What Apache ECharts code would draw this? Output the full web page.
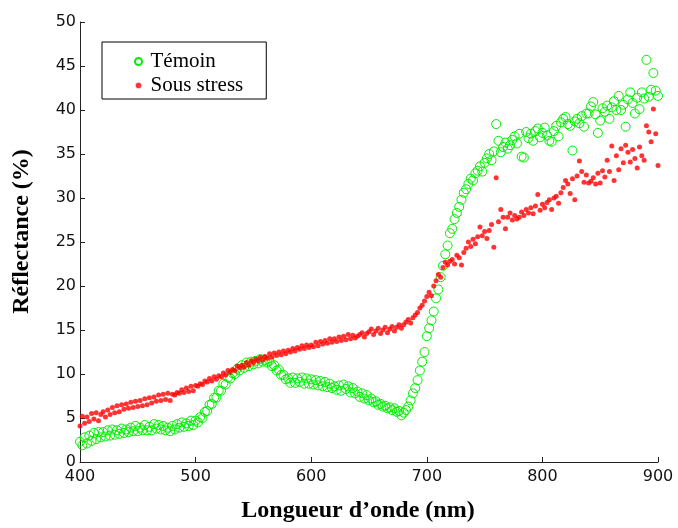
<!DOCTYPE html>
<html>
<head>
<meta charset="utf-8">
<script src="https://cdn.jsdelivr.net/npm/echarts@6/dist/echarts.min.js"></script>
<style>
html,body{margin:0;padding:0;background:#fff;}
#chart{width:678px;height:528px;}
</style>
</head>
<body>
<div id="chart"></div>
<script>
// Wavelengths (nm)
var wavelengths = [
400,402,404,406,408,410,412,414,416,418,
420,422,424,426,428,430,432,434,436,438,
440,442,444,446,448,450,452,454,456,458,
460,462,464,466,468,470,472,474,476,478,
480,482,484,486,488,490,492,494,496,498,
500,502,504,506,508,510,512,514,516,518,
520,522,524,526,528,530,532,534,536,538,
540,542,544,546,548,550,552,554,556,558,
560,562,564,566,568,570,572,574,576,578,
580,582,584,586,588,590,592,594,596,598,
600,602,604,606,608,610,612,614,616,618,
620,622,624,626,628,630,632,634,636,638,
640,642,644,646,648,650,652,654,656,658,
660,662,664,666,668,670,672,674,676,678,
680,682,684,686,688,690,692,694,696,698,
700,702,704,706,708,710,712,714,716,718,
720,722,724,726,728,730,732,734,736,738,
740,742,744,746,748,750,752,754,756,758,
760,762,764,766,768,770,772,774,776,778,
780,782,784,786,788,790,792,794,796,798,
800,802,804,806,808,810,812,814,816,818,
820,822,824,826,828,830,832,834,836,838,
840,842,844,846,848,850,852,854,856,858,
860,862,864,866,868,870,872,874,876,878,
880,882,884,886,888,890,892,894,896,898,
900];

// Témoin (%)
var temoin = [
2.3,1.9,2.8,2.1,3.0,2.4,3.3,2.6,3.4,2.8,
3.4,2.9,3.6,3.0,3.7,3.1,3.6,3.2,3.8,3.3,
3.7,3.4,3.9,3.5,4.1,3.5,3.9,3.6,4.2,3.6,
4.0,3.6,4.3,3.8,4.2,3.7,4.1,3.6,3.9,3.5,
4.1,3.7,4.3,3.9,4.5,4.0,4.4,4.1,4.7,4.2,
4.7,4.5,5.1,5.0,5.7,5.8,6.5,6.6,7.3,7.3,
8.1,8.1,8.9,8.8,9.6,9.5,10.1,10.0,10.6,10.4,
11.0,10.7,11.3,10.9,11.4,11.1,11.5,11.2,11.7,11.4,
11.6,11.3,11.5,10.9,11.0,10.4,10.5,9.9,9.9,9.4,
9.5,9.0,9.6,9.0,9.5,9.1,9.6,8.9,9.5,8.9,
9.4,8.8,9.3,8.7,9.2,8.6,9.1,8.5,8.9,8.4,
8.6,8.2,8.7,8.1,8.8,8.3,8.6,7.9,8.4,7.8,
8.0,7.4,7.8,7.2,7.6,7.0,7.2,6.8,6.9,6.5,
6.6,6.3,6.4,6.1,6.2,5.9,6.1,5.7,5.8,5.3,
5.6,5.9,6.3,7.0,7.8,8.4,9.3,10.4,11.4,12.5,
14.3,15.2,16.1,17.1,18.6,19.6,21.0,22.3,23.6,24.6,
26.0,26.5,27.6,28.3,29.0,29.8,30.6,31.0,31.6,32.2,
32.0,32.8,33.1,33.6,33.0,34.0,34.5,35.0,34.3,35.3,
38.4,36.5,35.2,35.8,36.3,35.6,36.0,36.6,37.0,36.2,
37.3,34.7,34.6,37.5,36.8,37.3,36.5,37.6,37.9,36.9,
37.4,38.0,37.1,36.5,36.4,37.6,38.2,37.0,38.6,39.0,
39.2,38.4,38.2,35.4,38.7,39.0,38.5,39.3,38.1,39.6,
39.6,40.4,40.9,39.5,37.4,38.8,40.2,39.8,40.5,39.0,
40.3,41.0,40.0,41.6,40.0,40.6,38.1,41.2,42.0,40.8,
39.6,41.4,40.1,42.0,41.3,45.7,41.5,42.3,44.2,42.2,
41.6];

// Sous stress (%)
var sousStress = [
4.1,5.2,4.4,5.1,4.6,5.5,4.9,5.6,4.7,5.4,
5.7,5.1,5.9,5.4,6.2,5.6,6.4,5.7,6.5,6.0,
6.6,6.1,6.8,6.2,6.9,6.3,7.0,6.4,7.2,6.5,
7.3,6.7,7.4,6.9,7.6,7.0,7.7,7.1,7.8,7.0,
7.7,7.6,7.9,7.8,8.2,7.9,8.4,8.0,8.6,8.1,
8.7,8.6,8.9,8.8,9.2,9.1,9.5,9.2,9.7,9.4,
9.8,9.7,10.1,9.9,10.4,10.2,10.5,10.4,10.9,10.7,
11.0,10.8,11.3,11.0,11.5,11.3,11.7,11.5,11.9,11.6,
12.0,11.8,12.3,11.9,12.4,12.1,12.5,12.2,12.6,12.3,
12.7,12.5,12.9,12.6,13.0,12.8,13.2,12.9,13.3,13.0,
13.3,13.1,13.6,13.2,13.7,13.4,13.8,13.5,14.0,13.6,
14.0,13.7,14.2,13.8,14.3,13.9,14.5,14.0,14.4,14.1,
14.3,14.5,14.7,14.2,14.6,14.8,15.1,14.5,14.9,15.2,
14.6,15.0,15.3,14.7,15.1,15.4,14.9,15.3,15.6,15.2,
15.6,15.9,16.2,15.8,16.4,16.7,17.0,17.5,17.8,18.3,
18.8,19.3,18.9,20.0,20.6,21.3,21.0,22.1,22.7,22.4,
22.8,23.0,22.5,23.5,23.2,22.4,23.8,24.3,25.0,24.5,
25.3,24.8,25.6,26.7,25.7,26.2,25.4,26.3,27.0,24.4,
32.3,27.3,28.7,27.8,26.5,27.8,28.3,27.5,28.0,27.6,
27.8,28.4,28.0,28.7,28.3,28.9,28.2,29.1,30.4,28.6,
29.3,28.9,29.5,29.8,28.7,30.0,30.2,29.4,30.6,31.2,
32.0,31.6,30.5,32.2,29.8,32.5,34.2,33.0,31.8,32.6,
31.7,31.9,32.3,31.6,32.8,31.7,33.1,32.4,34.3,33.0,
35.9,32.0,34.8,33.2,35.6,34.0,36.0,35.2,34.1,35.5,
34.5,33.4,35.8,34.8,34.3,38.2,37.5,36.4,40.1,37.3,
33.7];

var seriesNames = ['Témoin', 'Sous stress'];
var xTitle = 'Longueur d\u2019onde (nm)';
var yTitle = 'Réflectance (%)';

function pairs(xs, ys) {
  var out = [];
  for (var i = 0; i < xs.length; i++) out.push([xs[i], ys[i]]);
  return out;
}

var chart = echarts.init(document.getElementById('chart'), null, {renderer: 'canvas'});
var axisColor = '#222';
var tickFont = {fontFamily: 'DejaVu Sans', fontSize: 16, color: '#111'};
chart.setOption({
  animation: false,
  backgroundColor: '#fff',
  grid: {left: 80, right: 20, top: 22, bottom: 60, containLabel: false},
  legend: {
    orient: 'vertical',
    left: 102, top: 42,
    padding: [9, 23, 3, 32],
    itemGap: 3,
    itemWidth: 14, itemHeight: 7,
    borderColor: '#000', borderWidth: 1,
    textStyle: {fontFamily: 'Liberation Serif', fontSize: 21, color: '#000'},
    data: [
      {name: seriesNames[0]},
      {name: seriesNames[1], itemStyle: {borderColor: '#fff', borderWidth: 1.5}}
    ]
  },
  xAxis: {
    type: 'value', min: 400, max: 900, interval: 100,
    name: xTitle, nameLocation: 'middle', nameGap: 37,
    nameTextStyle: {fontFamily: 'Liberation Serif', fontWeight: 'bold', fontSize: 24, color: '#000', padding: [0, 22, 0, 0]},
    axisLine: {show: true, lineStyle: {color: axisColor, width: 1}},
    axisTick: {show: true, inside: true, length: 5, lineStyle: {color: axisColor}},
    axisLabel: Object.assign({margin: 7}, tickFont),
    splitLine: {show: false}
  },
  yAxis: {
    type: 'value', min: 0, max: 50, interval: 5,
    name: yTitle, nameLocation: 'middle', nameGap: 46,
    nameTextStyle: {fontFamily: 'Liberation Serif', fontWeight: 'bold', fontSize: 24, color: '#000', padding: [0, 0, 0, 21]},
    axisLine: {show: true, lineStyle: {color: axisColor, width: 1}},
    axisTick: {show: true, inside: true, length: 5, lineStyle: {color: axisColor}},
    axisLabel: Object.assign({margin: 4}, tickFont),
    splitLine: {show: false}
  },
  series: [
    {
      type: 'scatter', name: seriesNames[0],
      symbol: 'circle', symbolSize: 9,
      itemStyle: {color: 'rgba(0,0,0,0)', borderColor: '#00ee00', borderWidth: 1, opacity: 1},
      data: pairs(wavelengths, temoin)
    },
    {
      type: 'scatter', name: seriesNames[1],
      symbol: 'circle', symbolSize: 5,
      itemStyle: {color: '#ff0000'},
      data: pairs(wavelengths, sousStress)
    }
  ]
});
</script>
</body>
</html>
